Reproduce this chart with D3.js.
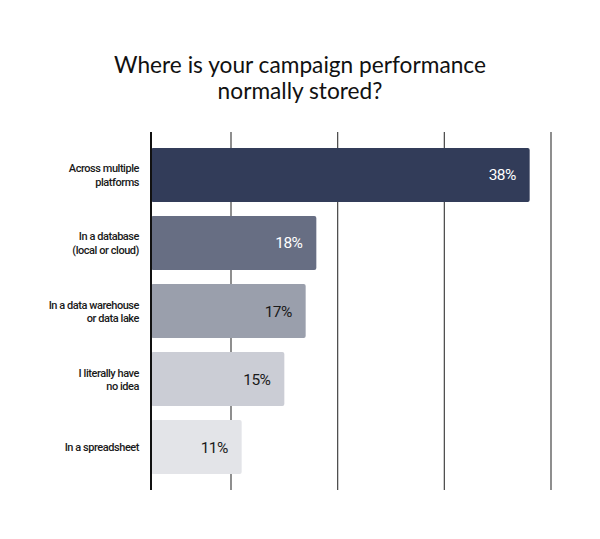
<!DOCTYPE html>
<meta charset="utf-8">
<script src="https://d3js.org/d3.v7.min.js"></script>
<style>
  body { margin: 0; background: #fff; }
</style>
<div id="chart"></div>
<script>

// data
var categories = [
  ["Across multiple", "platforms"],
  ["In a database", "(local or cloud)"],
  ["In a data warehouse", "or data lake"],
  ["I literally have", "no idea"],
  ["In a spreadsheet"]
];
var values = [38, 18, 17, 15, 11];
var gridTicks = [10, 20, 30, 40];
var barColors = ["#323c59", "#676e83", "#9a9fac", "#cbcdd5", "#e3e4e8"];
var labelColors = ["#ffffff", "#ffffff", "#1a1a1a", "#1a1a1a", "#1a1a1a"];

var width = 600, height = 539;
var margin = {top: 132, bottom: 49, left: 151, right: 49};

var svg = d3.select("#chart")
  .append("svg")
    .attr("width", width)
    .attr("height", height);

// title
svg.append("text")
  .attr("x", 300)
  .attr("y", 73)
  .attr("text-anchor", "middle")
  .style("font-family", "Lato, 'Open Sans', sans-serif")
  .style("font-size", "22.7px")
  .style("fill", "#111")
  .selectAll("tspan")
  .data(["Where is your campaign performance", "normally stored?"])
  .join("tspan")
    .attr("x", 300)
    .attr("dy", function(d, i) { return i ? 26 : 0; })
    .text(function(d) { return d; });

// scales (the baseline sits a little right of zero, bars start at the axis line)
var x = d3.scaleLinear()
  .domain([2.5, 40])
  .range([margin.left, width - margin.right]);

var y = d3.scaleBand()
  .domain(d3.range(values.length))
  .range([148, 474])
  .paddingInner(0.206)
  .paddingOuter(0);

// gridlines
svg.append("g")
  .selectAll("line")
  .data(gridTicks)
  .join("line")
    .attr("x1", function(d) { return x(d); })
    .attr("x2", function(d) { return x(d); })
    .attr("y1", margin.top)
    .attr("y2", height - margin.bottom)
    .attr("stroke", "#444")
    .attr("stroke-width", 1.2);

// bars
svg.append("g")
  .selectAll("rect")
  .data(values)
  .join("rect")
    .attr("x", x(2.5))
    .attr("y", function(d, i) { return y(i); })
    .attr("width", function(d) { return x(d) - x(2.5); })
    .attr("height", y.bandwidth())
    .attr("rx", 2)
    .attr("fill", function(d, i) { return barColors[i]; });

// value labels
svg.append("g")
  .selectAll("text")
  .data(values)
  .join("text")
    .attr("x", function(d) { return x(d) - 14; })
    .attr("y", function(d, i) { return y(i) + y.bandwidth() / 2 + 5.5; })
    .attr("text-anchor", "end")
    .style("font-family", "Roboto, Inter, sans-serif")
    .style("font-size", "15.5px")
    .style("letter-spacing", "-0.6px")
    .style("fill", function(d, i) { return labelColors[i]; })
    .text(function(d) { return d + "%"; });

// axis line
svg.append("line")
  .attr("x1", x(2.5))
  .attr("x2", x(2.5))
  .attr("y1", margin.top)
  .attr("y2", height - margin.bottom)
  .attr("stroke", "#111")
  .attr("stroke-width", 2);

// category labels
var cat = svg.append("g")
  .selectAll("text")
  .data(categories)
  .join("text")
    .attr("text-anchor", "end")
    .attr("y", function(d, i) {
      return y(i) + y.bandwidth() / 2 + 4 - (d.length - 1) * 6.5;
    })
    .style("font-family", "Roboto, sans-serif")
    .style("font-size", "11px")
    .style("font-weight", 500)
    .style("letter-spacing", "-0.45px")
    .style("fill", "#1a1a1a");

cat.selectAll("tspan")
  .data(function(d) { return d; })
  .join("tspan")
    .attr("x", 139)
    .attr("dy", function(d, i) { return i ? 13.5 : 0; })
    .text(function(d) { return d; });

</script>
